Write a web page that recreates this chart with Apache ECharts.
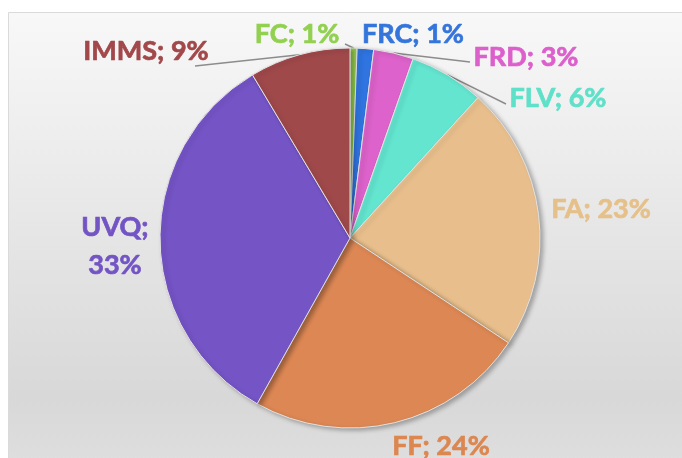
<!DOCTYPE html>
<html>
<head>
<meta charset="utf-8">
<style>
  html, body { margin: 0; padding: 0; background: #fff; }
  #main { width: 682px; height: 458px; }
</style>
<script src="https://cdn.jsdelivr.net/npm/echarts@6/dist/echarts.min.js"></script>
</head>
<body>
<div id="main"></div>
<script>
// data (clockwise from 12 o'clock)
var names = ['FC', 'FRC', 'FRD', 'FLV', 'FA', 'FF', 'UVQ', 'IMMS'];
var values = [0.6, 1.4, 3.4, 6.4, 22.6, 23.9, 33.4, 8.6];
var colors = ['#9ad64f', '#2f74e0', '#dd62cb', '#63e5cf', '#e8bf8c', '#dc8754', '#7554c6', '#a0494b'];
var textColors = ['#92d050', '#3475dc', '#dc5fcc', '#5fe0c9', '#e6c089', '#dc8650', '#7354c4', '#a2484a'];

// label centres and leader line ends (pixels)
var labelPos = [[297, 34], [413, 34], [526, 57], [558, 98], [601, 209], [441, 446], [115, 246], [146, 51]];
var lineEnd = [[345, 44], null, [470, 62], [506, 104], null, null, null, [195, 66]];

var chart = echarts.init(document.getElementById('main'));

var pieData = names.map(function (n, i) {
  return {
    name: n,
    value: values[i],
    itemStyle: { color: colors[i] },
    label: { color: textColors[i], textBorderColor: textColors[i] },
    labelLine: { show: lineEnd[i] !== null }
  };
});

var option = {
  animation: false,
  graphic: [{
    type: 'rect',
    z: -10,
    shape: { x: 8.5, y: 12.5, width: 700, height: 470 },
    style: {
      fill: new echarts.graphic.LinearGradient(0, 0, 0, 1, [
        { offset: 0, color: '#f8f8f8' },
        { offset: 0.82, color: '#d8d8d8' },
        { offset: 1, color: '#e0e0e0' }
      ]),
      stroke: '#dadada',
      lineWidth: 1
    }
  }],
  series: [{
    type: 'pie',
    center: [350, 238],
    radius: 190,
    startAngle: 90,
    clockwise: true,
    data: pieData,
    itemStyle: {
      borderColor: '#e2e2e2',
      borderWidth: 1,
      shadowColor: 'rgba(0,0,0,0.28)',
      shadowBlur: 4,
      shadowOffsetX: 3,
      shadowOffsetY: 2
    },
    label: {
      show: true,
      position: 'outside',
      fontFamily: 'Lato',
      fontWeight: 'bold',
      fontSize: 27,
      lineHeight: 38,
      textBorderWidth: 0.7,
      formatter: function (p) {
        return p.name === 'UVQ' ? p.name + ';\n' + p.percent + '%' : p.name + '; ' + p.percent + '%';
      }
    },
    percentPrecision: 0,
    labelLine: {
      show: true,
      length: 10,
      length2: 10,
      lineStyle: { color: '#8c8c8c', width: 1.5 }
    },
    labelLayout: function (params) {
      var i = params.dataIndex;
      var res = {
        x: labelPos[i][0],
        y: labelPos[i][1],
        align: 'center',
        verticalAlign: 'middle'
      };
      if (lineEnd[i] && params.labelLinePoints) {
        var p0 = params.labelLinePoints[0];
        res.labelLinePoints = [p0, lineEnd[i], lineEnd[i]];
      }
      return res;
    }
  }]
};

chart.setOption(option);
</script>
</body>
</html>
